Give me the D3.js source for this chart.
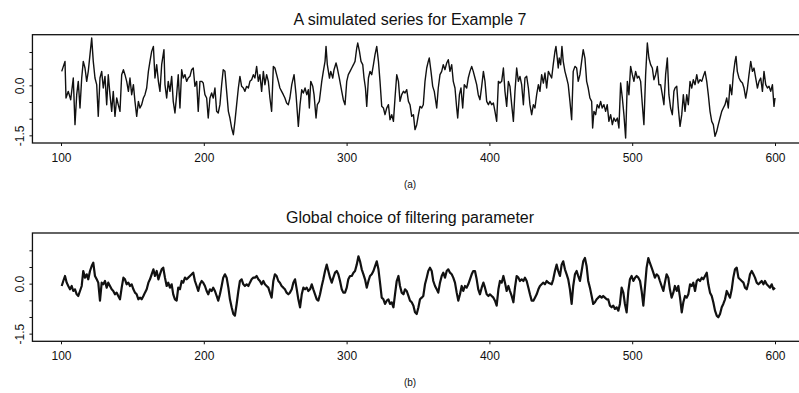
<!DOCTYPE html>
<html>
<head>
<meta charset="utf-8">
<script src="https://cdn.jsdelivr.net/npm/d3@7"></script>
<style>
  body { margin: 0; background: #fff; }
  svg { display: block; }
</style>
</head>
<body>
<svg id="chart"></svg>
<script>
// (time, value): the raw simulated series
const seriesA = [
  [100.5,0.42],[102.8,0.72],[103.5,-0.38],[105.1,-0.18],[106.8,-0.43],[108.6,0.22],[109.8,-1.18],[111.0,-0.28],[112.1,0.12],[113.3,-0.68],
  [114.5,0.22],[115.6,0.72],[116.8,0.52],[118.0,0.12],[119.1,0.42],[120.3,0.92],[121.5,1.42],[122.6,0.72],[123.8,0.22],[125.0,0.02],
  [126.1,-0.93],[127.3,0.22],[128.5,0.42],[129.6,-0.08],[130.8,0.27],[132.0,-0.58],[133.1,0.32],[134.3,-0.28],[135.5,-0.78],[136.6,-0.18],
  [137.8,-0.93],[139.0,-0.38],[140.1,-0.58],[141.3,-0.78],[142.5,0.32],[143.7,0.47],[144.8,0.32],[146.0,0.12],[147.2,-0.18],[148.3,0.22],
  [149.5,-0.28],[150.7,0.02],[151.8,-0.48],[153.0,-0.93],[154.2,-0.48],[155.3,-0.68],[156.5,-0.58],[157.7,-0.38],[158.8,-0.28],[160.0,-0.08],
  [161.2,0.42],[162.3,0.72],[163.5,1.02],[164.7,1.17],[165.8,0.22],[167.0,0.62],[168.2,0.12],[169.3,-0.18],
  [170.5,0.62],[172.1,1.07],[172.8,0.02],[174.0,-0.38],[175.1,0.12],[176.3,-0.18],[177.5,0.27],[178.6,-0.48],[179.8,-0.83],[181.0,-0.28],
  [182.1,0.32],[183.3,-0.68],[184.5,0.47],[185.6,0.22],[186.8,0.32],[188.0,0.12],[189.1,0.22],[190.3,0.27],[191.5,0.47],[192.6,0.52],
  [193.8,-0.03],[195.0,0.12],[196.1,-0.78],[197.3,0.12],[198.5,0.12],[199.6,0.07],[200.8,-0.28],[202.0,-0.38],[203.1,-0.98],[204.3,-0.38],
  [205.5,-0.23],[206.6,-0.38],[207.8,-0.08],[209.0,-0.78],[210.1,-0.83],[211.3,-0.58],[212.5,0.02],[213.6,0.47],[214.8,0.42],[216.0,-0.18],
  [217.2,-0.78],[218.3,-0.98],[219.5,-1.28],[220.7,-1.48],[221.8,-1.08],[223.0,-0.58],[224.2,-0.08],[225.3,0.27],[226.5,-0.03],[227.7,-0.08],
  [228.8,-0.18],[230.0,-0.03],[231.2,-0.08],[232.3,0.12],[233.5,0.17],[234.7,0.32],[235.8,0.22],[237.0,0.57],[238.2,0.12],[239.3,0.32],
  [240.5,-0.18],[241.7,0.42],[242.8,0.02],[244.0,0.32],[245.2,0.12],[246.3,-0.38],[247.5,-0.78],[248.7,0.57],[249.8,0.52],[251.0,0.32],
  [252.2,0.12],[253.3,-0.08],[254.5,-0.18],[255.7,-0.28],[256.8,-0.38],[258.0,-0.53],[259.2,-0.58],[260.3,-0.38],
  [261.6,0.02],[263.2,0.32],[264.6,-0.28],[266.2,-1.23],[267.4,-0.58],[268.6,-0.13],[269.7,-0.23],[270.9,-0.08],[272.1,-0.28],[273.2,-0.13],
  [273.9,-0.68],[274.9,0.12],[276.3,-0.03],[277.2,-0.28],[278.6,-0.98],[279.5,-0.58],[280.9,-0.48],[282.6,0.12],[283.7,0.42],[284.9,0.72],
  [285.6,1.17],[286.5,0.62],[288.0,0.22],[288.9,0.42],[290.3,0.22],[291.2,0.47],[292.6,0.67],[293.5,0.52],[294.9,0.22],[296.6,-0.18],
  [297.7,-0.43],[298.9,-0.58],[300.1,0.12],[301.2,0.32],[302.4,0.42],[303.6,0.52],[304.8,0.62],[305.9,0.72],[307.1,1.12],[307.8,1.27],
  [309.0,1.02],[310.1,0.72],[311.3,0.62],[312.2,0.22],[313.2,-0.08],[314.1,-0.63],[315.3,0.22],[316.4,0.42],[317.6,0.32],[318.8,0.62],
  [319.9,0.92],[321.1,1.17],[322.3,0.72],[323.4,0.12],[324.6,-0.63],[325.8,-0.68],[326.9,-0.88],[328.1,-0.68],[329.3,-0.58],[330.4,-1.03],
  [331.6,-0.88],[332.8,-1.08],[333.9,-0.38],[335.1,0.32],[336.3,0.12],[337.4,-0.48],[338.6,-0.28],[339.8,-0.18],[340.9,-0.23],[342.1,-0.13],
  [343.3,-0.48],[344.4,-0.58],[345.6,-0.93],[346.8,-0.88],[347.9,-1.33],[349.1,-1.18],[350.3,-0.88],
  [351.4,-0.63],[352.6,-0.68],[353.7,-0.58],[354.9,0.12],[356.1,0.52],[357.2,0.72],[357.9,0.82],[359.1,0.42],[360.3,-0.03],[361.4,-0.18],
  [363.1,-0.68],[364.2,-0.08],[365.4,0.32],[366.6,0.42],[367.7,0.62],[368.9,0.47],[370.1,0.67],[371.2,0.77],[372.4,0.42],[373.6,0.62],
  [374.7,0.12],[375.9,-0.08],[377.1,-0.68],[377.8,-0.98],[379.0,-0.28],[380.1,-0.08],[381.3,-0.68],[382.4,0.02],[384.1,-0.08],[385.2,0.22],
  [386.4,0.42],[387.6,0.57],[388.7,0.42],[389.9,0.22],[391.1,0.02],[392.2,-0.28],[393.4,-0.43],[394.6,-0.03],[395.8,0.42],[396.9,0.12],
  [398.1,-0.48],[399.3,-0.58],[400.4,-0.48],[401.6,-0.58],[402.8,-0.53],[403.9,-0.78],[405.1,-1.08],[406.3,0.12],[407.4,0.07],[408.6,0.12],
  [409.8,0.52],[410.9,-0.18],[412.1,-0.63],[413.3,0.12],[414.4,-0.03],[415.6,-0.58],[416.8,-1.08],[417.9,-0.18],[419.1,0.52],[420.3,0.12],
  [421.4,0.27],[422.6,0.02],[423.8,-0.58],[424.9,0.22],[426.1,0.27],[427.3,-0.08],[428.4,-0.58],[429.6,-0.88],[430.8,-0.58],[431.9,-0.68],
  [433.1,-0.28],[434.3,0.02],[435.4,-0.18],[436.6,0.32],[437.8,0.07],[438.9,0.37],[440.1,-0.08],[441.3,0.42],
  [443.6,0.22],[444.7,0.62],[445.9,1.02],[446.6,1.17],[447.5,0.82],[448.2,0.52],[448.9,0.82],[449.9,0.62],[450.8,1.17],[451.7,0.72],
  [452.9,0.42],[454.1,0.22],[455.2,0.02],[456.4,-0.48],[457.6,-1.03],[458.7,0.42],[459.9,0.57],[461.1,0.52],[462.2,0.12],[463.4,0.32],
  [464.6,0.72],[465.7,1.07],[466.9,0.82],[468.1,0.12],[469.2,-0.08],[470.4,-0.38],[471.6,-0.48],[472.3,-1.28],[473.2,-0.78],[474.4,-0.88],
  [475.5,-0.58],[476.7,-0.68],[477.9,-0.48],[479.0,-0.68],[480.2,-0.58],[481.4,-0.78],[482.5,-0.58],[483.7,-1.08],[484.9,-0.88],[486.1,-1.18],
  [487.2,-0.98],[488.4,-1.08],[489.6,-0.98],[490.7,-1.28],[491.9,0.07],[493.1,-0.38],[494.2,-0.88],[495.4,-1.58],[496.6,0.12],[497.7,-0.28],
  [498.9,0.57],[500.1,0.32],[501.2,0.12],[502.4,0.42],[503.6,0.22],[504.7,0.27],[505.9,0.12],[507.1,-0.58],[508.2,-1.18],[509.4,0.32],
  [510.6,1.27],[511.7,0.82],[512.9,0.62],[514.1,0.52],[515.2,0.17],[516.4,0.32],[517.6,0.57],[518.7,0.02],[519.9,0.02],[521.1,-0.28],
  [522.2,-0.58],[523.4,0.32],[524.6,0.82],[525.7,-0.28],[526.9,-0.68],[528.1,-0.88],[529.2,-0.18],
  [530.0,-0.08],[531.2,-0.03],[532.3,-0.68],[533.5,-1.23],[534.7,-0.88],[535.8,-0.28],[537.0,-0.78],[538.2,-0.28],[539.3,-0.58],[540.5,0.12],
  [541.7,-0.08],[542.8,0.17],[544.0,0.02],[545.2,0.32],[546.3,0.07],[547.5,0.17],[548.7,0.12],[549.8,0.27],[551.0,0.42],[552.2,0.12],
  [553.3,-0.28],[554.5,-0.78],[555.7,-1.08],[556.8,-1.18],[558.0,-1.53],[559.2,-1.38],[560.3,-1.18],[561.5,-0.98],[562.7,-0.78],[563.8,-0.68],
  [565.0,-0.58],[566.2,-0.38],[567.3,-0.68],[568.5,0.02],[569.7,-0.28],[570.8,0.32],[572.0,0.72],[572.7,0.87],[573.6,0.42],[574.8,0.22],
  [576.0,0.12],[577.2,0.07],[578.3,-0.08],[579.5,-0.38],[580.7,-0.08],[581.8,0.32],[583.0,0.72],[584.2,0.42],[585.3,0.52],[586.5,0.22],
  [587.7,-0.08],[588.8,0.12],[590.0,0.22],[591.2,-0.18],[592.3,0.42],[593.5,0.02],[594.7,-0.08],[595.8,-0.03],[597.0,-0.18],[598.2,0.02],
  [599.3,-0.63],[600.0,-0.38]
]

// (time, value): filtered series with the global parameter
const seriesB = [
  [100.5,-0.07],[101.6,0.08],[102.8,0.23],[104.0,0.03],[105.1,-0.07],[106.3,-0.17],[107.5,-0.07],[108.6,-0.22],[109.8,-0.17],[111.0,-0.32],
  [112.1,-0.37],[113.3,-0.22],[114.5,-0.07],[115.6,0.38],[116.8,0.18],[118.0,0.28],[119.1,0.13],[120.3,0.38],[121.5,0.53],[122.6,0.63],
  [123.8,0.23],[125.0,0.13],[126.1,0.03],[127.3,-0.51],[128.5,0.03],[129.6,-0.02],[130.8,0.08],[132.0,-0.12],[133.1,0.03],[134.3,-0.07],
  [135.5,-0.17],[136.6,-0.22],[137.8,-0.32],[139.0,-0.27],[140.1,-0.37],[141.3,-0.47],[142.5,-0.12],[143.7,0.18],[144.8,0.13],[146.0,-0.02],
  [147.2,0.03],[148.3,-0.07],[149.5,-0.02],[150.7,-0.17],[151.8,-0.27],[153.0,-0.32],[154.2,-0.47],[155.3,-0.42],[156.5,-0.47],[157.7,-0.37],
  [158.8,-0.27],[160.0,-0.17],[161.2,0.03],[162.3,0.13],[163.5,0.28],[164.7,0.43],[165.8,0.23],[167.0,0.38],[168.2,0.13],[169.3,0.28],
  [170.5,0.43],[171.6,0.48],[172.8,0.18],[174.0,-0.07],[175.1,0.03],[176.3,-0.12],[177.5,-0.02],[178.6,-0.32],[179.8,-0.47],[181.0,-0.51],
  [182.1,-0.12],[183.3,-0.17],[184.5,0.08],[185.6,0.03],[186.8,0.18],[188.0,0.13],[189.1,0.18],[190.3,0.23],[191.5,0.28],[192.6,0.33],
  [193.8,0.08],[195.0,-0.07],[196.1,-0.22],[197.3,-0.02],[198.5,0.08],[199.6,0.03],[200.8,-0.07],[202.0,-0.22],[203.1,-0.32],[204.3,-0.17],
  [205.5,-0.22],[206.6,-0.12],[207.8,-0.22],[209.0,-0.37],[210.1,-0.51],[211.3,-0.32],[212.5,-0.07],[213.6,0.18],[214.8,0.28],[216.0,0.18],
  [217.2,-0.12],[218.3,-0.47],[219.5,-0.71],[220.7,-0.91],[221.8,-0.96],[223.0,-0.61],[224.2,-0.22],[225.3,0.08],[226.5,0.13],[227.7,-0.02],
  [228.8,-0.07],[230.0,-0.02],[231.2,-0.07],[232.3,0.03],[233.5,0.13],[234.7,0.18],[235.8,0.18],[237.0,0.23],[238.2,0.13],[239.3,0.08],
  [240.5,-0.02],[241.7,0.08],[242.8,-0.02],[244.0,-0.07],[245.2,-0.12],[246.3,-0.27],[247.5,-0.42],[248.7,0.08],[249.8,0.28],[251.0,0.23],
  [252.2,0.08],[253.3,0.03],[254.5,-0.07],[255.7,-0.12],[256.8,-0.17],[258.0,-0.27],[259.2,-0.32],[260.3,-0.27],
  [261.6,-0.17],[262.7,0.03],[263.9,0.13],[265.1,-0.17],[266.2,-0.47],[267.4,-0.71],[268.6,-0.32],[269.7,-0.12],[270.9,-0.17],[272.1,-0.12],
  [273.2,-0.22],[274.4,-0.17],[275.6,-0.02],[276.7,-0.17],[277.9,-0.32],[279.1,-0.47],[280.2,-0.51],[281.4,-0.32],[282.6,-0.07],[283.7,0.13],
  [284.9,0.38],[286.1,0.57],[287.2,0.38],[288.4,0.18],[289.6,0.03],[290.7,0.18],[291.9,0.33],[293.1,0.38],[294.2,0.28],[295.4,0.08],
  [296.6,-0.17],[297.7,-0.27],[298.9,-0.27],[300.1,-0.12],[301.2,0.13],[302.4,0.23],[303.6,0.23],[304.8,0.33],[305.9,0.38],[307.1,0.57],
  [308.3,0.82],[309.4,0.67],[310.6,0.43],[311.8,0.28],[312.9,0.13],[314.1,-0.12],[315.3,0.08],[316.4,0.23],[317.6,0.28],[318.8,0.38],
  [319.9,0.52],[321.1,0.67],[322.3,0.43],[323.4,0.03],[324.6,-0.42],[325.8,-0.47],[326.9,-0.61],[328.1,-0.51],[329.3,-0.47],[330.4,-0.61],
  [331.6,-0.56],[332.8,-0.71],[333.9,-0.32],[335.1,0.08],[336.3,0.23],[337.4,-0.07],[338.6,-0.27],[339.8,-0.32],[340.9,-0.17],[342.1,-0.22],
  [343.3,-0.37],[344.4,-0.51],[345.6,-0.56],[346.8,-0.66],[347.9,-0.86],[349.1,-0.91],[350.3,-0.71],[351.4,-0.47],
  [352.6,-0.42],[353.7,-0.37],[354.9,-0.02],[356.1,0.18],[357.2,0.38],[358.4,0.48],[359.6,0.38],[360.7,0.08],[361.9,-0.07],[363.1,-0.17],
  [364.2,-0.27],[365.4,0.03],[366.6,0.23],[367.7,0.33],[368.9,0.18],[370.1,0.38],[371.2,0.43],[372.4,0.33],[373.6,0.28],[374.7,0.18],
  [375.9,0.03],[377.1,-0.27],[378.2,-0.51],[379.4,-0.32],[380.6,-0.07],[381.7,-0.22],[382.9,-0.07],[384.1,-0.12],[385.2,-0.02],[386.4,0.13],
  [387.6,0.28],[388.7,0.38],[389.9,0.38],[391.1,0.13],[392.2,-0.17],[393.4,-0.32],[394.6,-0.12],[395.8,0.03],[396.9,-0.12],[398.1,-0.32],
  [399.3,-0.37],[400.4,-0.32],[401.6,-0.37],[402.8,-0.42],[403.9,-0.51],[405.1,-0.66],[406.3,-0.17],[407.4,0.08],[408.6,0.03],[409.8,0.23],
  [410.9,0.03],[412.1,-0.22],[413.3,-0.07],[414.4,-0.22],[415.6,-0.37],[416.8,-0.56],[417.9,-0.12],[419.1,0.23],[420.3,0.18],[421.4,0.08],
  [422.6,0.13],[423.8,0.08],[424.9,0.18],[426.1,0.08],[427.3,-0.12],[428.4,-0.32],[429.6,-0.51],[430.8,-0.51],[431.9,-0.42],[433.1,-0.32],
  [434.3,-0.17],[435.4,-0.07],[436.6,-0.02],[437.8,0.03],[438.9,-0.02],[440.1,0.08],[441.3,0.03],
  [443.6,-0.02],[444.7,0.13],[445.9,0.38],[447.1,0.57],[448.2,0.38],[449.4,0.23],[450.6,0.57],[451.7,0.67],[452.9,0.43],[454.1,0.28],
  [455.2,0.13],[456.4,-0.17],[457.6,-0.61],[458.7,-0.07],[459.9,0.28],[461.1,0.38],[462.2,0.23],[463.4,0.08],[464.6,0.38],[465.7,0.67],
  [466.9,0.77],[468.1,0.52],[469.2,0.08],[470.4,-0.12],[471.6,-0.37],[472.7,-0.61],[473.9,-0.56],[475.1,-0.47],[476.2,-0.42],[477.4,-0.37],
  [478.6,-0.42],[479.7,-0.37],[480.9,-0.42],[482.1,-0.47],[483.2,-0.47],[484.4,-0.66],[485.6,-0.71],[486.8,-0.66],[487.9,-0.76],[489.1,-0.71],
  [490.3,-0.81],[491.4,-0.61],[492.6,-0.12],[493.8,-0.27],[494.9,-0.61],[496.1,-0.86],[497.3,-0.22],[498.4,0.13],[499.6,0.23],[500.8,0.08],
  [502.0,0.18],[503.1,0.23],[504.3,0.18],[505.5,0.08],[506.6,-0.22],[507.8,-0.66],[509.0,-0.07],[510.1,0.48],[511.3,0.77],[512.4,0.62],
  [513.6,0.48],[514.8,0.33],[515.9,0.18],[517.1,0.28],[518.3,0.23],[519.4,0.08],[520.6,-0.07],[521.8,-0.22],[522.9,0.03],[524.1,0.28],
  [525.3,0.18],[526.4,-0.17],[527.6,-0.42],[528.8,-0.27],[529.9,-0.07],
  [531.2,-0.22],[532.3,-0.07],[533.5,-0.42],[534.7,-0.86],[535.8,-0.56],[537.0,-0.37],[538.2,-0.42],[539.3,-0.32],[540.5,-0.02],[541.7,-0.07],
  [542.8,0.03],[544.0,-0.22],[545.2,0.08],[546.3,0.13],[547.5,0.08],[548.7,0.18],[549.8,0.13],[551.0,0.23],[552.2,0.33],[553.3,-0.02],
  [554.5,-0.27],[555.7,-0.37],[556.8,-0.56],[558.0,-0.81],[559.2,-0.96],[560.3,-1.01],[561.5,-0.91],[562.7,-0.71],[563.8,-0.61],[565.0,-0.47],
  [566.2,-0.22],[567.3,-0.32],[568.5,-0.42],[569.7,-0.17],[570.8,0.18],[572.0,0.43],[573.2,0.48],[574.4,0.18],[575.5,0.13],[576.7,0.08],
  [577.9,0.03],[579.0,-0.12],[580.2,-0.17],[581.4,0.03],[582.5,0.28],[583.7,0.38],[584.9,0.28],[586.0,0.18],[587.2,0.03],[588.4,-0.02],
  [589.5,0.03],[590.7,0.08],[591.9,-0.02],[593.0,0.08],[594.2,-0.02],[595.4,-0.07],[596.5,-0.12],[597.7,-0.02],[598.9,-0.17],[600.0,-0.12]
]

const xTicks = [100, 200, 300, 400, 500, 600]
const yTicks = [-1.5, -1, -0.5, 0, 0.5, 1]
const yLabelled = [-1.5, 0]
const titles = ["A simulated series for Example 7", "Global choice of filtering parameter"]
const tags = ["(a)", "(b)"]

const width = 799, height = 393
const font = "'Liberation Sans', Arial, Helvetica, sans-serif"
const ink = "#111"
const boxHeight = 108.3
const xLim = [80, 620]      // R style 4% padding round 101..600
const yLim = [-1.73, 1.52]

const panels = [
  { data: seriesA, title: titles[0], tag: tags[0], top: 34.7, stroke: 1.4 },
  { data: seriesB, title: titles[1], tag: tags[1], top: 233, stroke: 2.2 }
]

const x = d3.scaleLinear()
    .domain([100, 600])
    .range([61, 775])

const svg = d3.select("#chart")
    .attr("width", width)
    .attr("height", height)
    .attr("viewBox", `0 0 ${width} ${height}`)

svg.append("rect")
    .attr("width", width)
    .attr("height", height)
    .attr("fill", "#fff")

panels.forEach(p => {
  const y = d3.scaleLinear()
      .domain(yLim)
      .range([p.top + boxHeight, p.top])
  const bottom = p.top + boxHeight

  const g = svg.append("g")

  g.append("rect")
      .attr("x", x(xLim[0]))
      .attr("y", p.top)
      .attr("width", x(xLim[1]) - x(xLim[0]))
      .attr("height", boxHeight)
      .attr("fill", "none")
      .attr("stroke", ink)
      .attr("stroke-width", 1.3)

  g.append("path")
      .datum(p.data)
      .attr("fill", "none")
      .attr("stroke", ink)
      .attr("stroke-width", p.stroke)
      .attr("stroke-linejoin", "round")
      .attr("d", d3.line().x(d => x(d[0])).y(d => y(d[1])))

  // x axis
  g.append("g")
      .attr("transform", `translate(0,${bottom})`)
      .call(d3.axisBottom(x).tickValues(xTicks).tickSize(3).tickPadding(7).tickFormat(d3.format("d")))
      .call(a => a.select(".domain").remove())
      .attr("font-size", 12)
      .attr("font-family", font)
      .call(a => a.selectAll("line").attr("stroke", ink))
      .call(a => a.selectAll("text").attr("fill", ink))

  // y axis, labels parallel to the axis
  g.append("g")
      .attr("transform", `translate(${x(xLim[0])},0)`)
      .call(d3.axisLeft(y).tickValues(yTicks).tickSize(3)
        .tickFormat(d => yLabelled.includes(d) ? d.toFixed(1) : ""))
      .call(a => a.select(".domain").remove())
      .attr("font-size", 12)
      .attr("font-family", font)
      .call(a => a.selectAll("line").attr("stroke", ink))
      .call(a => a.selectAll("text")
        .attr("x", null)
        .attr("dy", null)
        .attr("text-anchor", "middle")
        .attr("transform", "translate(-8,0) rotate(-90)")
        .attr("fill", ink))

  g.append("text")
      .attr("x", 410)
      .attr("y", p.top - 10)
      .attr("text-anchor", "middle")
      .attr("font-family", font)
      .attr("font-size", 16)
      .attr("fill", ink)
      .text(p.title)

  g.append("text")
      .attr("x", 410)
      .attr("y", bottom + 45)
      .attr("text-anchor", "middle")
      .attr("font-family", font)
      .attr("font-size", 10)
      .attr("fill", ink)
      .text(p.tag)
})
</script>
</body>
</html>
